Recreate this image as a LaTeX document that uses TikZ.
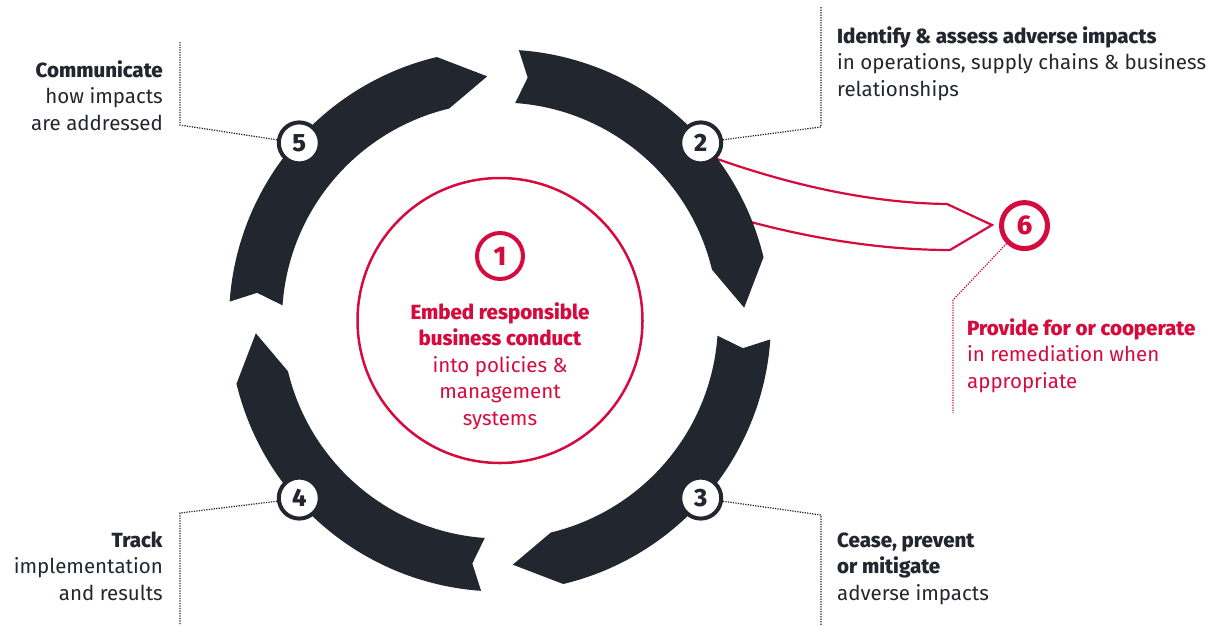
\documentclass[tikz,border=0pt]{standalone}
\usepackage{fontspec}
\setmainfont{Fira Sans}[BoldFont={Fira Sans ExtraBold}]
\usetikzlibrary{calc}
\definecolor{ink}{HTML}{22262E}
\definecolor{crim}{HTML}{D50B3D}
\tikzset{
  numcirc/.style={circle, draw=ink, line width=4pt, fill=white, minimum size=41pt, inner sep=0pt,
    font=\fontsize{25}{25}\selectfont\bfseries, text=ink},
  rednum/.style={circle, draw=crim, fill=white, minimum size=46pt, inner sep=0pt,
    font=\fontsize{27}{27}\selectfont\bfseries, text=crim},
  leader/.style={draw=ink, line width=1.25pt, dash pattern=on 1.25pt off 1.25pt},
  redleader/.style={leader, draw=crim},
  txt/.style={inner sep=0pt, font=\fontsize{20.5}{26.5}\selectfont, text=ink},
  band/.style={fill=ink},
  redarrow/.style={draw=crim, line width=2.2pt, line join=miter},
}
\begin{document}
\begin{tikzpicture}[x=1pt,y=1pt]
\useasboundingbox (0,0) rectangle (1227,-625);
\coordinate (c) at (500,-320.5);
% red arrow to step 6 (behind the band)
\coordinate (ra1) at (712.5,-157.3);
\coordinate (ra2) at (747,-221);
\coordinate (rau) at (947,-204);
\coordinate (ral) at (950,-250);
\coordinate (rtip) at (992,-225);
\draw[redarrow] (ra1) .. controls (790,-185) and (870,-203) .. (rau) -- (rtip) -- (ral)
   .. controls (880,-250) and (810,-238) .. (ra2);
% ring of four arrows
\foreach \k in {0,1,2,3}{
  \begin{scope}[shift={(c)}, rotate=-90*\k]
    \fill[band] (86:271) arc[start angle=86, end angle=13.5, radius=271] -- (3:244.5)
      -- (13.5:218) arc[start angle=13.5, end angle=86, radius=218] -- (83.5:244.5) -- cycle;
  \end{scope}
}
% centre
\draw[crim, line width=2.5pt] (c) circle[radius=142.5];
\node[rednum, line width=4pt] (n1) at (500,-256) {1};
\node[txt, text=crim, align=center, anchor=base] (t1) at (500,-425)
  {\textbf{Embed responsible}\\\textbf{business conduct}\\into policies \&\\management\\systems};
% numbered circles
\node[numcirc] (n2) at ($(c)+(41.5:268)$) {2};
\node[numcirc] (n3) at ($(c)+(-41.5:268)$) {3};
\node[numcirc] (n4) at ($(c)+(-138.5:268)$) {4};
\node[numcirc] (n5) at ($(c)+(138.5:268)$) {5};
\node[rednum, line width=5pt] (n6) at (1024.5,-225.6) {6};
% leaders
\coordinate (k5a) at (180,-125); \coordinate (k5b) at (180,-42);
\coordinate (k2a) at (821,-127); \coordinate (k2b) at (821,-7);
\coordinate (k3a) at (821,-515); \coordinate (k3b) at (821,-625);
\coordinate (k4a) at (180,-513); \coordinate (k4b) at (180,-625);
\coordinate (k6a) at (953,-300); \coordinate (k6b) at (953,-413);
\draw[leader] (n5.172) -- (k5a) -- (k5b);
\draw[leader] (n2.8) -- (k2a) -- (k2b);
\draw[leader] (n3.-8) -- (k3a) -- (k3b);
\draw[leader] (n4.188) -- (k4a) -- (k4b);
\draw[redleader] (n6.225) -- (k6a) -- (k6b);
% labels
\node[txt, align=right, anchor=base east] (t5) at (163,-130)
  {\textbf{Communicate}\\how impacts\\are addressed};
\node[txt, align=left, anchor=base west] (t2) at (837,-96)
  {\textbf{Identify \& assess adverse impacts}\\in operations, supply chains \& business\\relationships};
\node[txt, text=crim, align=left, anchor=base west] (t6) at (967,-388)
  {\textbf{Provide for or cooperate}\\in remediation when\\appropriate};
\node[txt, align=left, anchor=base west] (t3) at (837,-600)
  {\textbf{Cease, prevent}\\\textbf{or mitigate}\\adverse impacts};
\node[txt, align=right, anchor=base east] (t4) at (163,-600)
  {\textbf{Track}\\implementation\\and results};
\end{tikzpicture}
\end{document}
